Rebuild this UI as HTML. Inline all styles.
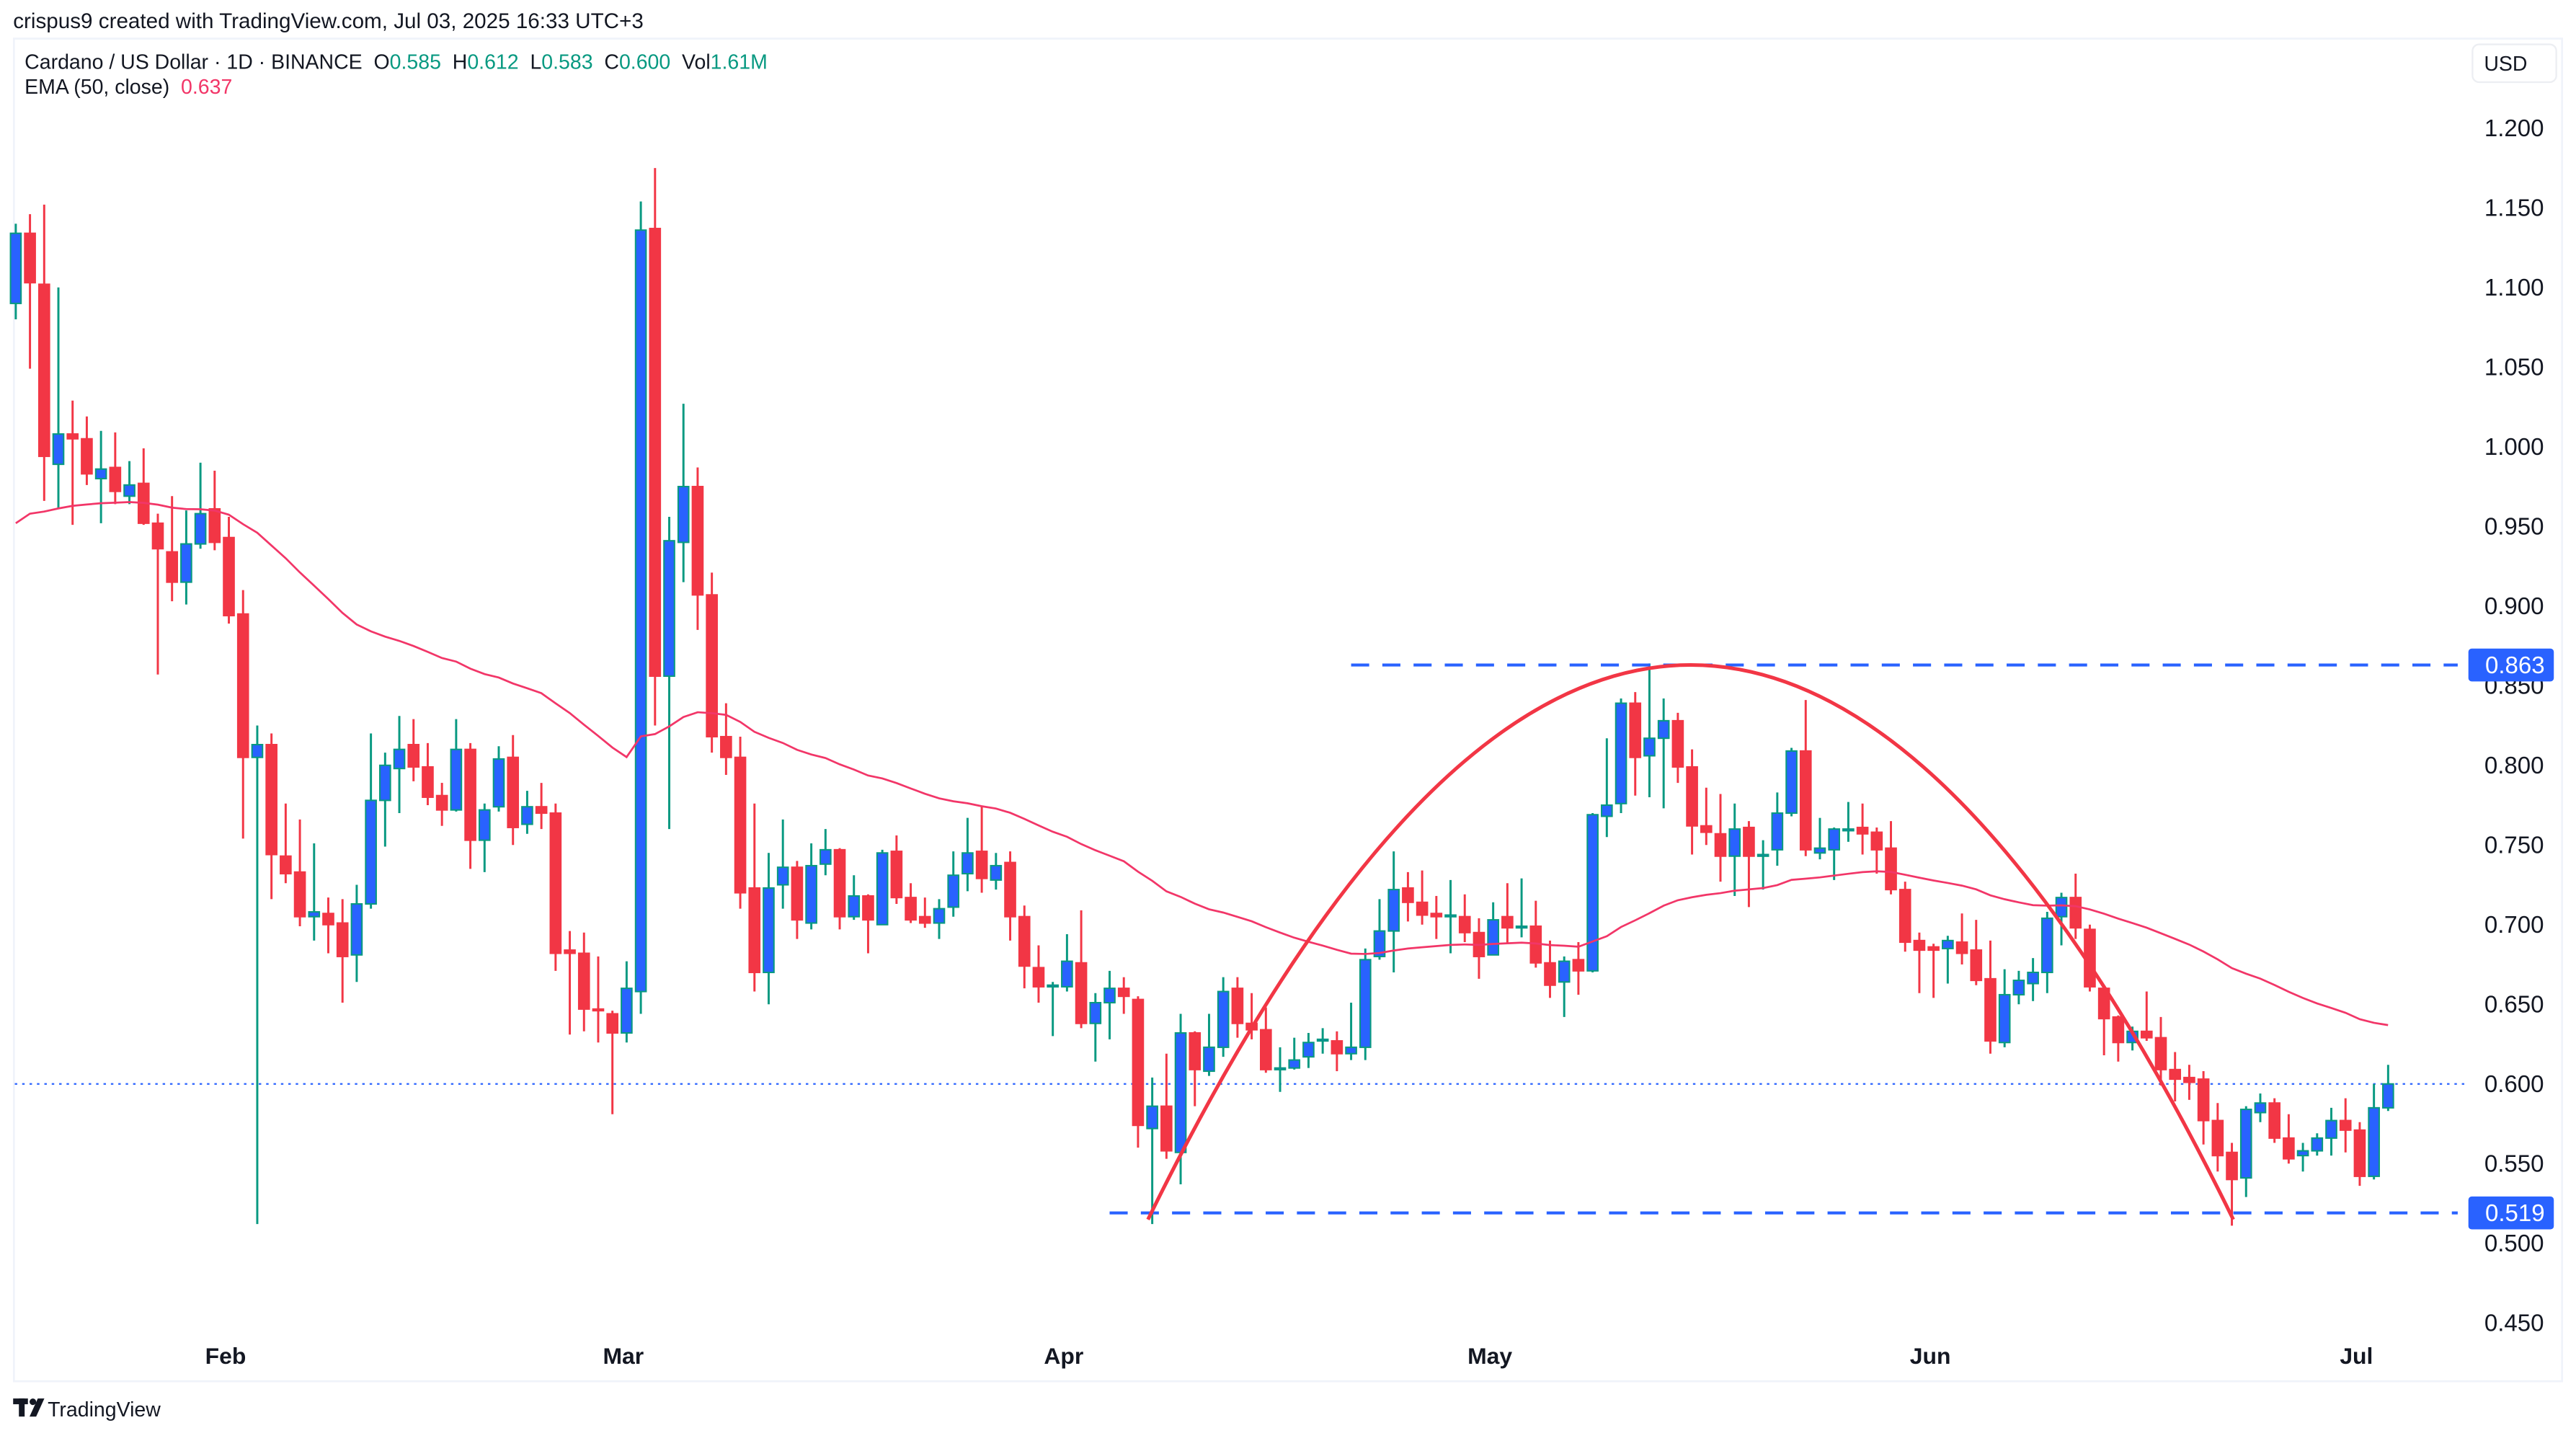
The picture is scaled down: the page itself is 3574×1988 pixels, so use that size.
<!DOCTYPE html>
<html><head><meta charset="utf-8"><style>
html,body{margin:0;padding:0;background:#fff;}
svg{display:block;}
text{font-family:"Liberation Sans",sans-serif;white-space:pre;}
</style></head><body>
<svg id="chart" width="3574" height="1988" viewBox="0 0 1568 872" preserveAspectRatio="none" xmlns="http://www.w3.org/2000/svg">
<rect x="0" y="0" width="1568" height="872" fill="#fff"/>
<text x="8" y="17" font-size="13" fill="#131722">crispus9 created with TradingView.com, Jul 03, 2025 16:33 UTC+3</text>
<rect x="8.5" y="23.5" width="1551" height="817" fill="none" stroke="#f0f3fa" stroke-width="1.2"/>
<text x="15" y="42" font-size="12.5" fill="#131722" xml:space="preserve">Cardano / US Dollar · 1D · BINANCE  <tspan>O</tspan><tspan fill="#089981">0.585</tspan>  <tspan>H</tspan><tspan fill="#089981">0.612</tspan>  <tspan>L</tspan><tspan fill="#089981">0.583</tspan>  <tspan>C</tspan><tspan fill="#089981">0.600</tspan>  <tspan>Vol</tspan><tspan fill="#089981">1.61M</tspan></text>
<text x="15" y="57" font-size="12.5" fill="#131722" xml:space="preserve">EMA (50, close)  <tspan fill="#f23668">0.637</tspan></text>
<g><rect x="1505" y="27" width="51" height="23" rx="4" fill="#fff" stroke="#eceef2"/><text x="1512" y="43" font-size="12.5" fill="#131722">USD</text></g>
<g id="axis"></g>
<g id="marks"></g>
<g id="overlay"></g>
<g><rect x="8" y="851" width="9" height="3.5" fill="#131722"/><rect x="11.5" y="851" width="3.5" height="11" fill="#131722"/><circle cx="20" cy="853" r="2" fill="#131722"/><polygon points="23,851 27,851 22,862 18,862" fill="#131722"/><text x="29" y="862" font-size="12.5" fill="#131722">TradingView</text></g>
</svg>
<script>
const opens=[1.090,1.134,1.102,0.989,1.008,1.005,0.980,0.987,0.969,0.977,0.952,0.934,0.915,0.939,0.961,0.943,0.895,0.805,0.813,0.743,0.733,0.705,0.707,0.701,0.681,0.713,0.778,0.798,0.813,0.799,0.781,0.772,0.810,0.753,0.774,0.805,0.763,0.774,0.770,0.684,0.682,0.647,0.644,0.632,0.658,1.137,0.856,0.940,0.975,0.907,0.818,0.805,0.723,0.670,0.725,0.736,0.701,0.738,0.747,0.705,0.718,0.700,0.746,0.717,0.705,0.701,0.711,0.732,0.746,0.728,0.739,0.705,0.673,0.661,0.661,0.676,0.638,0.651,0.660,0.653,0.572,0.586,0.557,0.632,0.608,0.623,0.660,0.638,0.634,0.609,0.610,0.617,0.627,0.627,0.619,0.623,0.680,0.696,0.723,0.714,0.707,0.705,0.705,0.695,0.681,0.705,0.699,0.699,0.676,0.664,0.678,0.671,0.768,0.776,0.839,0.806,0.817,0.828,0.799,0.762,0.757,0.743,0.761,0.743,0.747,0.770,0.809,0.745,0.747,0.760,0.761,0.758,0.748,0.722,0.690,0.686,0.685,0.689,0.684,0.666,0.626,0.656,0.663,0.670,0.705,0.717,0.697,0.660,0.642,0.626,0.633,0.629,0.609,0.604,0.603,0.577,0.557,0.541,0.582,0.588,0.566,0.555,0.558,0.566,0.577,0.571,0.542,0.585];
const highs=[1.140,1.146,1.152,1.100,1.029,1.019,1.010,1.009,0.991,0.999,0.958,0.969,0.960,0.990,0.985,0.956,0.910,0.825,0.820,0.776,0.766,0.751,0.717,0.716,0.725,0.820,0.808,0.831,0.829,0.814,0.789,0.829,0.814,0.776,0.812,0.819,0.784,0.789,0.776,0.696,0.695,0.680,0.646,0.677,1.154,1.175,0.956,1.027,0.987,0.921,0.839,0.818,0.776,0.745,0.766,0.740,0.751,0.760,0.748,0.731,0.719,0.747,0.756,0.726,0.717,0.716,0.746,0.767,0.774,0.745,0.746,0.712,0.687,0.664,0.694,0.709,0.657,0.671,0.667,0.655,0.604,0.619,0.644,0.633,0.644,0.667,0.667,0.657,0.648,0.623,0.629,0.632,0.635,0.633,0.651,0.685,0.716,0.746,0.733,0.734,0.718,0.728,0.719,0.704,0.714,0.726,0.729,0.715,0.690,0.680,0.689,0.770,0.817,0.842,0.846,0.864,0.842,0.833,0.810,0.786,0.782,0.776,0.765,0.753,0.783,0.811,0.841,0.767,0.761,0.777,0.776,0.761,0.765,0.727,0.695,0.688,0.693,0.707,0.703,0.690,0.672,0.671,0.679,0.708,0.720,0.732,0.700,0.661,0.643,0.636,0.658,0.642,0.620,0.612,0.608,0.588,0.563,0.586,0.594,0.591,0.581,0.563,0.569,0.585,0.591,0.576,0.600,0.612];
const lows=[1.080,1.049,0.966,0.961,0.951,0.976,0.952,0.964,0.964,0.951,0.857,0.903,0.901,0.936,0.935,0.889,0.754,0.512,0.716,0.726,0.699,0.690,0.682,0.651,0.664,0.710,0.749,0.770,0.790,0.775,0.762,0.771,0.735,0.733,0.771,0.750,0.757,0.760,0.671,0.631,0.633,0.626,0.581,0.626,0.644,0.825,0.760,0.915,0.885,0.808,0.794,0.710,0.658,0.650,0.710,0.691,0.697,0.731,0.697,0.703,0.682,0.700,0.713,0.701,0.698,0.691,0.705,0.721,0.720,0.722,0.690,0.660,0.651,0.630,0.658,0.635,0.614,0.628,0.644,0.560,0.512,0.553,0.537,0.586,0.605,0.617,0.629,0.628,0.607,0.595,0.609,0.610,0.619,0.608,0.615,0.615,0.678,0.670,0.702,0.700,0.691,0.682,0.689,0.666,0.681,0.688,0.692,0.673,0.654,0.642,0.656,0.670,0.755,0.770,0.781,0.780,0.773,0.789,0.744,0.750,0.727,0.718,0.711,0.722,0.737,0.768,0.743,0.741,0.728,0.752,0.744,0.732,0.719,0.683,0.657,0.654,0.663,0.675,0.662,0.619,0.623,0.650,0.652,0.657,0.687,0.691,0.658,0.618,0.614,0.621,0.627,0.599,0.589,0.590,0.562,0.545,0.511,0.529,0.576,0.563,0.550,0.545,0.555,0.555,0.557,0.536,0.540,0.583];
const closes=[1.134,1.103,0.994,1.008,1.005,0.983,0.986,0.972,0.976,0.952,0.936,0.915,0.939,0.958,0.940,0.894,0.805,0.813,0.744,0.732,0.705,0.708,0.700,0.680,0.713,0.778,0.800,0.810,0.799,0.780,0.772,0.810,0.753,0.772,0.804,0.761,0.774,0.770,0.682,0.682,0.647,0.646,0.632,0.660,1.136,0.856,0.941,0.975,0.907,0.818,0.805,0.720,0.670,0.723,0.736,0.703,0.737,0.747,0.705,0.718,0.703,0.745,0.717,0.703,0.701,0.710,0.731,0.745,0.729,0.737,0.705,0.674,0.661,0.662,0.677,0.638,0.651,0.660,0.655,0.574,0.586,0.558,0.632,0.609,0.623,0.658,0.638,0.634,0.609,0.610,0.615,0.626,0.628,0.619,0.623,0.678,0.696,0.722,0.714,0.706,0.705,0.706,0.695,0.680,0.703,0.698,0.699,0.676,0.662,0.677,0.671,0.769,0.775,0.839,0.805,0.817,0.828,0.799,0.762,0.758,0.743,0.760,0.743,0.744,0.770,0.809,0.747,0.748,0.760,0.760,0.757,0.747,0.722,0.689,0.684,0.684,0.690,0.682,0.665,0.627,0.656,0.665,0.670,0.704,0.717,0.698,0.661,0.641,0.626,0.633,0.629,0.609,0.603,0.601,0.577,0.555,0.540,0.584,0.588,0.566,0.553,0.558,0.566,0.577,0.571,0.542,0.585,0.600];
const priceTicks=[1.200,1.150,1.100,1.050,1.000,0.950,0.900,0.850,0.800,0.750,0.700,0.650,0.600,0.550,0.500,0.450];
const monthLabels=["Feb","Mar","Apr","May","Jun","Jul"];
const monthIndex=[15,43,74,104,135,165];
const levels=[0.863,0.519];
const levelStart=[94,77];
const emaSeed=0.952;
const lastPrice=0.600;

const NS="http://www.w3.org/2000/svg";
function xOf(i){return 9.6+i*8.647;}
function yOf(p){return 78+(1.2-p)*969.3;}
function mk(tag,attrs,parent){const e=document.createElementNS(NS,tag);for(const k in attrs)e.setAttribute(k,attrs[k]);parent.appendChild(e);return e;}
const axis=document.getElementById('axis'),marks=document.getElementById('marks'),ov=document.getElementById('overlay');

priceTicks.forEach(p=>{
  const t=mk('text',{x:1548.5,y:yOf(p)+5,'font-size':14.5,fill:'#131722','text-anchor':'end'},axis);
  
  
  t.textContent=p.toFixed(3);
});
monthLabels.forEach((m,k)=>{
  const t=mk('text',{x:xOf(monthIndex[k])-2,y:830,'font-size':14,'font-weight':'bold',fill:'#131722','text-anchor':'middle'},axis);
  
  
  t.textContent=m;
});

const lp=mk('line',{x1:9,x2:1500,y1:yOf(lastPrice),y2:yOf(lastPrice),stroke:'#2962ff','stroke-width':1,'stroke-dasharray':'1.5 3'},marks);



for(let i=0;i<closes.length;i++){
  const up=closes[i]>=opens[i];
  const g=mk('g',{},marks);
  
  
  const x=xOf(i);
  mk('line',{x1:x,x2:x,y1:yOf(highs[i]),y2:yOf(lows[i]),stroke:up?'#089981':'#f23645','stroke-width':1.3},g);
  const yt=yOf(Math.max(opens[i],closes[i])),yb=yOf(Math.min(opens[i],closes[i]));
  mk('rect',{x:x-3.2,y:yt,width:6.4,height:Math.max(1,yb-yt),fill:up?'#2962ff':'#f23645',stroke:up?'#089981':'#f23645','stroke-width':0.9},g);
}

let ema=emaSeed,pts=[];
const a=2/51;
for(let i=0;i<closes.length;i++){ if(i>0) ema=a*closes[i]+(1-a)*ema; pts.push(xOf(i).toFixed(1)+','+yOf(ema).toFixed(1)); }
const el=mk('polyline',{points:pts.join(' '),fill:'none',stroke:'#f23668','stroke-width':1.2},marks);



levels.forEach((lv,k)=>{
  const l=mk('line',{x1:xOf(levelStart[k]),x2:1496,y1:yOf(lv),y2:yOf(lv),stroke:'#2962ff','stroke-width':1.8,'stroke-dasharray':'11 8'},ov);
  
  
  const b=mk('rect',{x:1502.5,y:yOf(lv)-10,width:52,height:20,rx:2,fill:'#2962ff'},ov);
  
  
  const t=mk('text',{x:1549,y:yOf(lv)+5,'font-size':14.5,fill:'#fff','text-anchor':'end'},ov);
  
  
  t.textContent=lv.toFixed(3);
});

const arcL=xOf(79.7),arcR=xOf(156.1),yBase=yOf(0.519),yTop=yOf(0.863);
const arc=mk('path',{d:'M'+arcL+','+(yBase+4)+' Q'+((arcL+arcR)/2)+','+(2*yTop-yBase-4)+' '+arcR+','+(yBase+4),fill:'none',stroke:'#f23645','stroke-width':2.2},ov);


</script>
</body></html>
